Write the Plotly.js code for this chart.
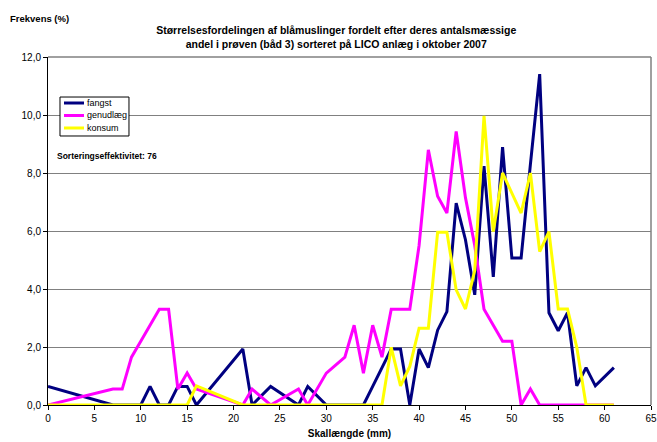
<!DOCTYPE html>
<html>
<head>
<meta charset="utf-8">
<script src="https://cdn.plot.ly/plotly-3.0.1.min.js"></script>
<style>
html,body{margin:0;padding:0;background:#fff;}
#chart{width:657px;height:442px;}
</style>
</head>
<body>
<div id="chart"></div>
<script>
// Shell length (mm)
var lengths = [0,7,8,9,10,11,12,13,14,15,16,21,22,24,27,28,30,32,33,34,35,36,37,38,39,40,41,42,43,44,45,46,47,48,49,50,51,52,53,54,55,56,57,58,59,60,61];
// Frequency (%) per series
var fangst = [0.64,0,0,0,0,0.64,0,0,0.64,0.64,0,1.93,0,0.64,0,0.64,0,0,0,0,0.64,1.29,1.93,1.93,0,1.93,1.29,2.58,3.22,6.96,5.7,3.8,8.24,4.42,8.89,5.07,5.07,8.3,11.41,3.18,2.56,3.18,0.66,1.29,0.66,null,1.29];
var genudlaeg = [0,0.55,0.55,1.65,2.2,2.75,3.3,3.3,0.55,1.1,0.55,0,0.55,0,0.55,0,1.1,1.65,2.75,1.1,2.75,1.65,3.3,3.3,3.3,5.5,8.8,7.2,6.62,9.43,7.15,5.5,3.3,2.75,2.2,2.2,0,0.55,0,0,0,0,0,0,0,0,0];
var konsum = [0,0,0,0,0,0,0,0,0,0,0.66,0,0,0,0,0,0,0,0,0,0,0,1.99,0.66,1.33,2.65,2.65,5.96,5.96,3.97,3.31,4.64,9.97,5.98,8.0,7.28,6.62,8.0,5.29,5.98,3.31,3.31,1.99,0,0,0,0];
var seriesNames = ["fangst","genudlæg","konsum"];
var seriesColors = ["#000080","#FF00FF","#FFFF00"];
var xTicks = [0,5,10,15,20,25,30,35,40,45,50,55,60,65];
var yTicks = [0,2,4,6,8,10,12];

var font = "Liberation Sans, Arial, sans-serif";
var data = [fangst, genudlaeg, konsum].map(function(vals, i){
  return {
    x: lengths, y: vals, type: "scatter", mode: "lines",
    name: seriesNames[i], connectgaps: true, showlegend: false,
    line: {color: seriesColors[i], width: 3}
  };
});

// legend box drawn as shapes + text (Excel-style compact legend)
var legBox = {x0: 0.0199, x1: 0.1343, y0: 0.773, y1: 0.885};
var legRows = [0.8678, 0.8319, 0.7960];
var shapes = [
  {type: "line", xref: "paper", yref: "paper", x0: 0, x1: 1, y0: 1, y1: 1, line: {color: "#808080", width: 1.5}, layer: "below"},
  {type: "line", xref: "paper", yref: "paper", x0: 1, x1: 1, y0: 0, y1: 1, line: {color: "#808080", width: 1.5}, layer: "below"},
  {type: "rect", xref: "paper", yref: "paper", x0: legBox.x0, x1: legBox.x1, y0: legBox.y0, y1: legBox.y1,
   line: {color: "#000", width: 1}, fillcolor: "#fff", layer: "above"}
];
var annotations = [
  {text: "<b>Frekvens (%)</b>", xref: "paper", yref: "paper", x: -0.066, y: 1.112, xanchor: "left", yanchor: "middle", showarrow: false, font: {family: font, size: 9.5}},
  {text: "<b>Sorteringseffektivitet: 76</b>", xref: "paper", yref: "paper", x: 0.0116, y: 0.716, xanchor: "left", yanchor: "middle", showarrow: false, font: {family: font, size: 8.5}}
];
seriesNames.forEach(function(name, i){
  shapes.push({type: "line", xref: "paper", yref: "paper", x0: 0.0265, x1: 0.0597, y0: legRows[i], y1: legRows[i],
    line: {color: seriesColors[i], width: 3}, layer: "above"});
  annotations.push({text: name, xref: "paper", yref: "paper", x: 0.061, y: legRows[i], xanchor: "left", yanchor: "middle",
    showarrow: false, font: {family: font, size: 9, color: "#000"}});
});

var layout = {
  width: 657, height: 442,
  margin: {l: 48, r: 6, t: 57, b: 37},
  paper_bgcolor: "#fff", plot_bgcolor: "#fff",
  separators: ",.",
  font: {family: font, size: 10, color: "#000"},
  showlegend: false,
  title: {
    text: "<b>Størrelsesfordelingen af blåmuslinger fordelt efter deres antalsmæssige<br>andel i prøven (båd 3) sorteret på LICO anlæg i oktober 2007</b>",
    font: {family: font, size: 10.5, color: "#000"},
    xref: "paper", x: 0.478, xanchor: "center",
    yref: "container", y: 0.922, yanchor: "middle"
  },
  xaxis: {
    range: [0, 65], tickvals: xTicks, ticktext: xTicks.map(String),
    showgrid: false, zeroline: false,
    showline: true, linecolor: "#000", linewidth: 1,
    ticks: "outside", ticklen: 4, tickcolor: "#000",
    tickfont: {family: font, size: 10},
    title: {text: "<b>Skallængde (mm)</b>", font: {family: font, size: 10}, standoff: 6}
  },
  yaxis: {
    range: [0, 12], tickvals: yTicks, tickformat: ".1f",
    showgrid: true, gridcolor: "#808080", gridwidth: 1, zeroline: false,
    showline: true, linecolor: "#000", linewidth: 1,
    ticks: "outside", ticklen: 4, tickcolor: "#000",
    tickfont: {family: font, size: 10}
  },
  shapes: shapes,
  annotations: annotations
};

Plotly.newPlot("chart", data, layout, {displayModeBar: false, staticPlot: true});
</script>
</body>
</html>
